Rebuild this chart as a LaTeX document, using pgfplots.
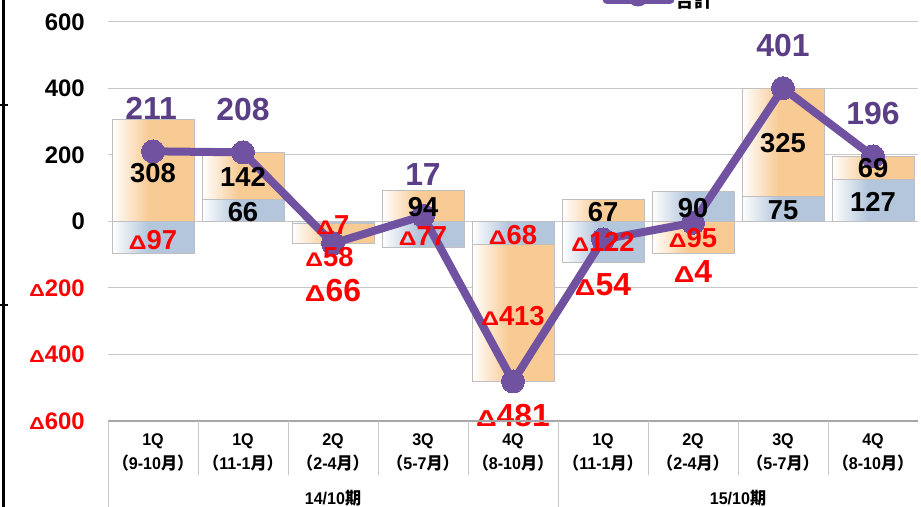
\documentclass[border=0pt]{standalone}
\usepackage{fontspec}
\setmainfont{Liberation Sans}
\newfontfamily\cjk{Noto Sans CJK JP}
\usepackage{graphicx}
\usepackage{pgfplots}
\pgfplotsset{compat=1.18}
\definecolor{barO}{HTML}{F8CB94}
\definecolor{barB}{HTML}{B3C6DC}
\definecolor{barE}{HTML}{BFBFBF}
\definecolor{lineP}{HTML}{7152A0}
\definecolor{totP}{HTML}{5B3F86}
\definecolor{gridG}{HTML}{C8C8C8}
\definecolor{redR}{HTML}{FF0000}
\pgfdeclarehorizontalshading{oshade}{100bp}{color(0bp)=(white); color(25bp)=(white); color(47bp)=(barO); color(100bp)=(barO)}
\pgfdeclarehorizontalshading{bshade}{100bp}{color(0bp)=(white); color(25bp)=(white); color(47bp)=(barB); color(100bp)=(barB)}
\newcommand\tri{\scalebox{0.9}[0.72]{Δ}}
\newcommand\cat[2]{\scalebox{0.95}[1]{\shortstack{#1\\[3bp]{\cjk （}#2{\cjk 月）}}}}
\tikzset{
  lab/.style={font=\fontsize{27.5}{27.5}\selectfont\bfseries, inner sep=0pt, text height=19.7bp, text depth=0pt},
  tot/.style={font=\fontsize{32}{32}\selectfont\bfseries, inner sep=0pt, text height=23bp, text depth=0pt},
}
\pgfplotsset{baseax/.style={at={(0,0)}, anchor=south west, scale only axis, width=810bp, height=399bp,
  xmin=-0.5, xmax=8.5, ymin=-600, ymax=600, clip=false}}
\newcommand\barpair[3]{%
\begin{axis}[baseax, hide axis, ybar stacked, bar width=82bp]
\addplot[shade, shading=bshade, draw=barE, line width=0.8bp] coordinates {(#1,#2)};
\addplot[shade, shading=oshade, draw=barE, line width=0.8bp] coordinates {(#1,#3)};
\end{axis}}
\begin{document}
\begin{tikzpicture}[x=1bp,y=1bp]
\useasboundingbox (-108,-86) rectangle (813,421);
\begin{axis}[baseax,
  axis line style={draw=none},
  ymajorgrids, grid style={gridG, line width=1bp},
  ytick={-600,-400,-200,0,200,400,600},
  yticklabels={{\color{redR}\tri600},{\color{redR}\tri400},{\color{redR}\tri200},0,200,400,600},
  major tick length=0pt,
  xtick=\empty,
  yticklabel style={anchor=east, inner sep=0pt, xshift=-23bp, font=\fontsize{24}{24}\selectfont\bfseries},
]
\end{axis}
% stacked bars: blue (first part), orange (second part)
\barpair{0}{-97}{308}
\barpair{1}{66}{142}
\barpair{2}{-7}{-58}
\barpair{3}{-77}{94}
\barpair{4}{-68}{-413}
\barpair{5}{-122}{67}
\barpair{6}{90}{-95}
\barpair{7}{75}{325}
\barpair{8}{127}{69}
\begin{axis}[baseax, hide axis]
\addplot[lineP, line width=8bp, line join=round, mark=*, mark size=11.5bp, mark options={fill=lineP, draw=lineP, line width=0pt}] coordinates {(0,211)(1,208)(2,-66)(3,17)(4,-481)(5,-54)(6,-4)(7,401)(8,196)};
\end{axis}
\begin{axis}[baseax, hide axis]
% stacked bar labels
\node[lab] at (axis cs:0,147) {308};
\node[lab, redR] at (axis cs:0,-56) {\tri97};
\node[lab] at (axis cs:1,134) {142};
\node[lab] at (axis cs:1,29) {66};
\node[lab, redR] at (axis cs:2,-8) {\tri7};
\node[lab, redR] at (axis cs:1.96,-107) {\tri58};
\node[lab] at (axis cs:3,44) {94};
\node[lab, redR] at (axis cs:3,-44) {\tri77};
\node[lab, redR] at (axis cs:4,-41) {\tri68};
\node[lab, redR] at (axis cs:4,-284) {\tri413};
\node[lab] at (axis cs:5,29) {67};
\node[lab, redR] at (axis cs:5,-62) {\tri122};
\node[lab] at (axis cs:6,41) {90};
\node[lab, redR] at (axis cs:6,-48) {\tri95};
\node[lab] at (axis cs:7,236) {325};
\node[lab] at (axis cs:7,35) {75};
\node[lab] at (axis cs:8,161) {69};
\node[lab] at (axis cs:8,59) {127};
% totals
\node[tot, totP] at (axis cs:-0.02,340) {211};
\node[tot, totP] at (axis cs:1,337) {208};
\node[tot, redR] at (axis cs:2,-205) {\tri66};
\node[tot, totP] at (axis cs:3,144) {17};
\node[tot, redR] at (axis cs:4,-582) {\tri481};
\node[tot, redR] at (axis cs:5,-189) {\tri54};
\node[tot, redR] at (axis cs:6,-149) {\tri4};
\node[tot, totP] at (axis cs:7,531) {401};
\node[tot, totP] at (axis cs:8,325) {196};
\end{axis}
% bottom axis line
\draw[gray!70, line width=1.2bp] (0,0) -- (810,0);
% category separators
\foreach \k in {1,2,3,4,6,7,8} \draw[gridG, line width=1bp] (90*\k,0) -- (90*\k,-54);
\foreach \k in {0,5} \draw[gridG, line width=1bp] (90*\k,0) -- (90*\k,-90);
% category labels
\begin{scope}[every node/.style={font=\fontsize{17}{17}\selectfont\bfseries, inner sep=0pt}]
\node at (45,-31) {\cat{1Q}{9-10}};
\node at (135,-31) {\cat{1Q}{11-1}};
\node at (225,-31) {\cat{2Q}{2-4}};
\node at (315,-31) {\cat{3Q}{5-7}};
\node at (405,-31) {\cat{4Q}{8-10}};
\node at (495,-31) {\cat{1Q}{11-1}};
\node at (585,-31) {\cat{2Q}{2-4}};
\node at (675,-31) {\cat{3Q}{5-7}};
\node at (765,-31) {\cat{4Q}{8-10}};
\node at (225,-77) {\scalebox{0.95}[1]{14/10{\cjk 期}}};
\node at (630,-77) {\scalebox{0.95}[1]{15/10{\cjk 期}}};
\end{scope}
% legend (cut at top)
\draw[lineP, line width=9bp, line cap=round] (499,421.5) -- (562,421.5);
\fill[lineP] (530,426) circle (11.5);
\node[anchor=base west, inner sep=0pt, font=\fontsize{19}{19}\selectfont\bfseries] at (567,413) {\cjk 合計};
% left frame line
\draw[black, line width=2.5bp] (-104.5,-90) -- (-104.5,425);
\draw[black, line width=2bp] (-108,316) -- (-100,316);
\draw[black, line width=2bp] (-108,116) -- (-100,116);
\end{tikzpicture}
\end{document}
